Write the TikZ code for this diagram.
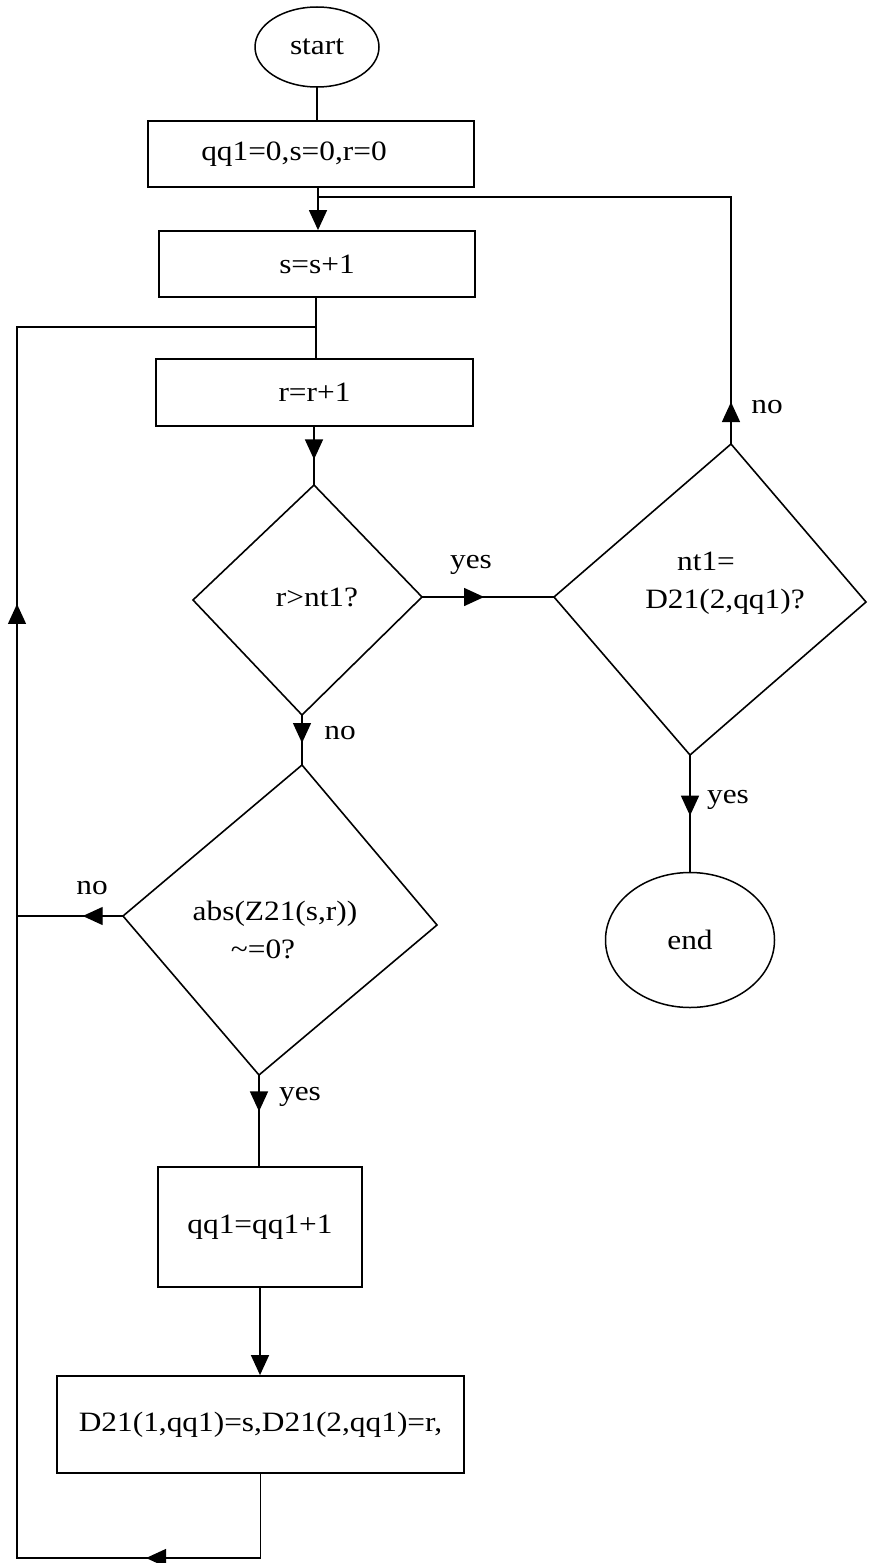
\documentclass[tikz,border=0pt]{standalone}
\usepackage{fontspec}
\setmainfont{Liberation Serif}[FakeStretch=1.12]
\usetikzlibrary{shapes.geometric,arrows.meta,decorations.markings}
\begin{document}
\begin{tikzpicture}[x=1pt,y=-1pt,
  every node/.style={font=\fontsize{28}{38}\selectfont},
  box/.style={draw, line width=1.8pt, rectangle, inner sep=0pt},
  term/.style={draw, line width=1.5pt, ellipse, inner sep=0pt},
  lab/.style={inner sep=0pt},
  line/.style={line width=1.4pt, line cap=rect},
  dshape/.style={line width=1.6pt, line join=miter},
  tip/.style={-{Triangle[length=20pt,width=18pt]}},
  marr/.style={postaction={decorate}, decoration={markings, mark=at position #1 with {\arrow{Triangle[length=20pt,width=18pt]}}}}
]
\useasboundingbox (0,0) rectangle (870,1563);

% terminals and boxes
\node[term, minimum width=124pt, minimum height=80pt] (start) at (317,47) {start};
\node[box, minimum width=326pt, minimum height=66pt] (b1) at (311,154) {qq1=0,s=0,r=0\rule{34pt}{0pt}};
\node[box, minimum width=316pt, minimum height=66pt] (b2) at (317,264) {s=s+1};
\node[box, minimum width=317pt, minimum height=67pt] (b3) at (314.5,392.5) {r=r+1};
\node[box, minimum width=204pt, minimum height=120pt] (b4) at (260,1227) {qq1=qq1+1};
\node[box, minimum width=407pt, minimum height=97pt] (b5) at (260.5,1424.5) {D21(1,qq1)=s,D21(2,qq1)=r,};
\node[term, minimum width=169pt, minimum height=135pt] (end) at (690,940) {end};

% decision diamonds
\coordinate (d1n) at (314,485); \coordinate (d1e) at (422,597);
\coordinate (d1s) at (302,715); \coordinate (d1w) at (193,600);
\draw[dshape] (d1n) -- (d1e) -- (d1s) -- (d1w) -- cycle;
\node (d1) at (317,597) {r>nt1?};

\coordinate (d2n) at (731,444); \coordinate (d2e) at (866,602);
\coordinate (d2s) at (690,755); \coordinate (d2w) at (554,597);
\draw[dshape] (d2n) -- (d2e) -- (d2s) -- (d2w) -- cycle;
\node[align=center] (d2) at (725,583) {nt1=\rule{38pt}{0pt}\\D21(2,qq1)?};

\coordinate (d3n) at (302,765); \coordinate (d3e) at (437,925);
\coordinate (d3s) at (259,1075); \coordinate (d3w) at (123,916);
\draw[dshape] (d3n) -- (d3e) -- (d3s) -- (d3w) -- cycle;
\node[align=center] (d3) at (275,930) {abs(Z21(s,r))\\\textasciitilde=0?\rule{24pt}{0pt}};

% junction points
\coordinate (j1) at (318,197);
\coordinate (j2) at (316,327);
\coordinate (cb) at (17,1558);
\coordinate (ct) at (17,327);

% connectors
\draw[line] (start.south) -- (start.south |- b1.north);
\draw[line,tip] (b1.south -| j1) -- (b2.north -| j1);
\draw[line] (b2.south -| j2) -- (b3.north -| j2);
\draw[line,marr=0.56] (b3.south -| d1n) -- (d1n);
\draw[line,marr=0.47] (d1e) -- (d2w);
\draw[line,marr=0.56] (d1s) -- (d3n);
\draw[line,marr=0.17] (d2n) -- (d2n |- j1);
\draw[line] (d2n |- j1) -- (j1);
\draw[line,marr=0.52] (d2s) -- (d2s |- end.north);
\draw[line,marr=0.38] (d3w) -- (d3w -| cb);
\draw[line,marr=0.4] (d3s) -- (d3s |- b4.north);
\draw[line,tip] (b4.south) -- (b4.south |- b5.north);
\draw[line] (b5.south) -- (b5.south |- cb);
\draw[line,marr=0.47] (b5.south |- cb) -- (cb);
\draw[line,marr=0.775] (cb) -- (ct);
\draw[line] (ct) -- (j2);

% labels
\node[lab] (l1) at (471,565) {yes};
\node[lab] (l2) at (767,407) {no};
\node[lab] (l3) at (340,733) {no};
\node[lab] (l4) at (728,800) {yes};
\node[lab] (l5) at (92,888) {no};
\node[lab] (l6) at (300,1097) {yes};
\end{tikzpicture}
\end{document}
